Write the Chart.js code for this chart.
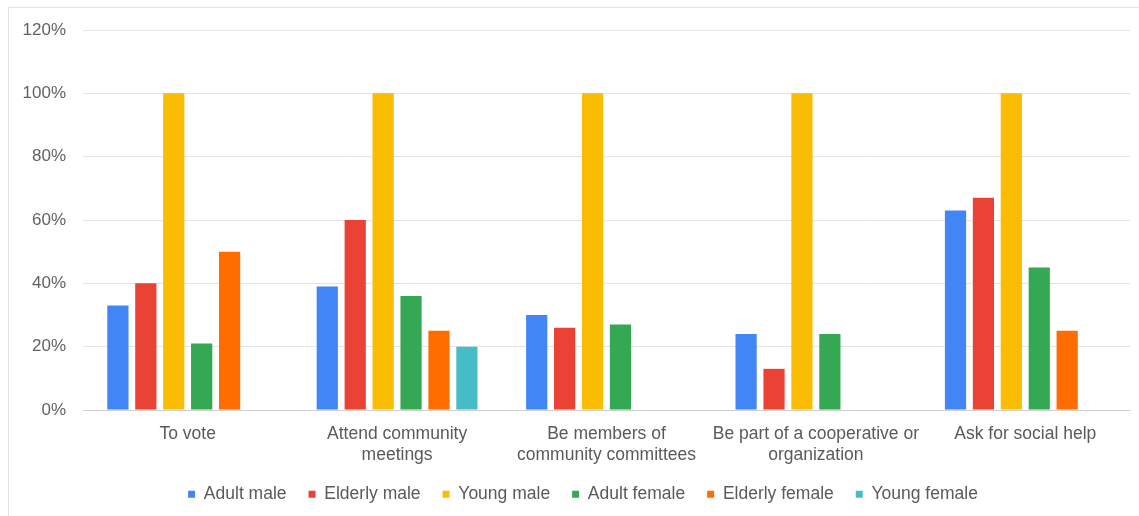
<!DOCTYPE html>
<html>
<head>
<meta charset="utf-8">
<script src="https://cdn.jsdelivr.net/npm/chart.js@4/dist/chart.umd.min.js"></script>
<style>
  html, body { margin: 0; padding: 0; background: #fff; }
  #wrap { position: relative; width: 1139px; height: 516px; }
  #frame { position: absolute; left: 8px; top: 7px; width: 1140px; height: 520px; border: 1px solid #e3e3e3; box-sizing: border-box; }
  canvas { position: absolute; left: 0; top: 0; }
</style>
</head>
<body>
<div id="wrap">
  <div id="frame"></div>
  <canvas id="c" width="1139" height="516"></canvas>
</div>
<script>
const categories = [
  "To vote",
  ["Attend community", "meetings"],
  ["Be members of", "community committees"],
  ["Be part of a cooperative or", "organization"],
  "Ask for social help"
];
const adultMale   = [0.33, 0.39, 0.30, 0.24, 0.63];
const elderlyMale = [0.40, 0.60, 0.26, 0.13, 0.67];
const youngMale   = [1.00, 1.00, 1.00, 1.00, 1.00];
const adultFemale = [0.21, 0.36, 0.27, 0.24, 0.45];
const elderlyFemale = [0.50, 0.25, null, null, 0.25];
const youngFemale = [null, 0.20, null, null, null];
const yTicks = [0, 0.2, 0.4, 0.6, 0.8, 1.0, 1.2];

const seriesNames = ["Adult male", "Elderly male", "Young male", "Adult female", "Elderly female", "Young female"];
const seriesData = [adultMale, elderlyMale, youngMale, adultFemale, elderlyFemale, youngFemale];
const colors = ["#4285F4", "#EA4335", "#FBBC04", "#34A853", "#FF6D01", "#46BDC6"];

const font = "'Liberation Sans', Arial, sans-serif";

// nudge the legend box so it sits where the reference legend sits
const legendShift = {
  id: 'legendShift',
  afterLayout(chart) {
    const l = chart.legend;
    if (!l) return;
    l.left += 18; l.right += 18;
    l.top -= 3; l.bottom -= 3;
  }
};

new Chart(document.getElementById('c'), {
  type: 'bar',
  data: {
    labels: categories,
    datasets: seriesNames.map((n, i) => ({
      label: n,
      data: seriesData[i],
      backgroundColor: colors[i],
      borderWidth: 0,
      categoryPercentage: 0.8,
      barPercentage: 0.76
    }))
  },
  plugins: [legendShift],
  options: {
    responsive: false,
    animation: false,
    devicePixelRatio: 1,
    layout: { padding: { left: 0, right: 9, top: 30, bottom: 0 } },
    plugins: {
      tooltip: { enabled: false },
      legend: {
        position: 'bottom',
        labels: {
          boxWidth: 7, boxHeight: 7, padding: 22,
          color: '#5a5a5a',
          font: { family: font, size: 17.5 }
        }
      }
    },
    scales: {
      x: {
        grid: { display: false, drawTicks: false },
        border: { display: true, color: '#d0d0d0' },
        ticks: {
          color: '#5a5a5a', padding: 13, maxRotation: 0, autoSkip: false,
          font: { family: font, size: 17.5, lineHeight: 1.22 }
        },
        afterFit: (s) => { s.height = 56.5; }
      },
      y: {
        min: 0, max: 1.2,
        afterBuildTicks: (s) => { s.ticks = yTicks.map(v => ({ value: v })); },
        grid: { color: '#e4e4e4', drawTicks: false },
        border: { display: false },
        ticks: {
          color: '#626262', padding: 17,
          font: { family: font, size: 17 },
          callback: (v) => Math.round(v * 100) + '%'
        },
        afterFit: (s) => { s.width = 83; }
      }
    }
  }
});
</script>
</body>
</html>
